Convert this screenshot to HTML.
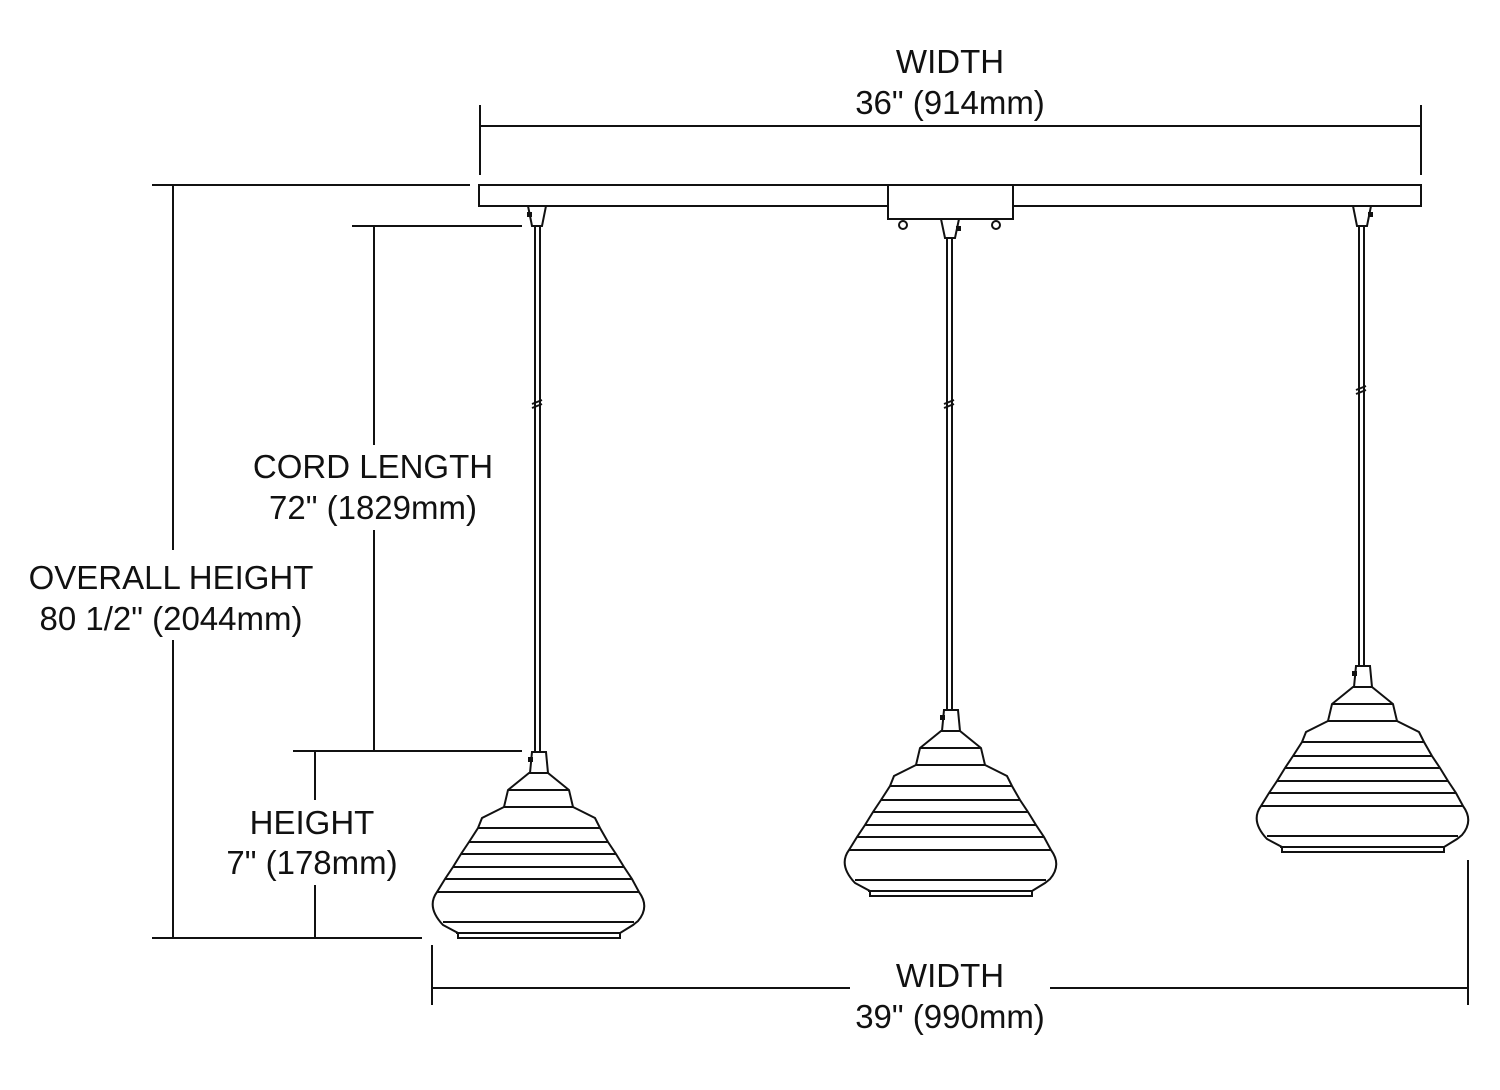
<!DOCTYPE html>
<html><head><style>
body{margin:0;background:#fff}
svg text{font-family:"Liberation Sans",sans-serif;font-size:33px;fill:#111;text-anchor:middle}
</style></head><body>
<svg width="1500" height="1085" viewBox="0 0 1500 1085" xmlns="http://www.w3.org/2000/svg">
<defs>
<g id="shade" fill="#fff" stroke="#111" stroke-width="2">
  <path d="M-6,-21 L8,-21 L10,0 L-8,0 Z"/>
  <path d="M-9,0 L10,0 L31,17 L35,34 L57,45 L62,55 L70,69 L78,81 L86,94 L94,106 L101,119 Q112,134 100,148 L95,152 L82,160 L82,165 L-80,165 L-80,160 L-95,152 Q-112,134 -101,119 L-93,106 L-85,94 L-77,81 L-69,69 L-60,55 L-56,45 L-34,34 L-30,17 Z"/>
  <path d="M-30,17 H31 M-34,34 H35 M-60,55 H62 M-69,69 H70 M-77,81 H78 M-85,94 H86 M-93,106 H94 M-101,119 H101 M-95,149 H96 M-82,160 H82" fill="none"/>
  <rect x="-10" y="-16" width="5" height="5" fill="#111" stroke="none"/>
</g>
</defs>
<g stroke="#111" stroke-width="2" fill="none">
  <line x1="480" y1="105" x2="480" y2="175"/><line x1="1421" y1="105" x2="1421" y2="175"/>
  <line x1="480" y1="126" x2="1421" y2="126"/>
  <line x1="152" y1="185" x2="470" y2="185"/><line x1="152" y1="938" x2="422" y2="938"/>
  <line x1="173" y1="185" x2="173" y2="550"/><line x1="173" y1="640" x2="173" y2="938"/>
  <line x1="352" y1="226" x2="522" y2="226"/><line x1="293" y1="751" x2="522" y2="751"/>
  <line x1="374" y1="226" x2="374" y2="445"/><line x1="374" y1="530" x2="374" y2="751"/>
  <line x1="315" y1="751" x2="315" y2="800"/><line x1="315" y1="885" x2="315" y2="938"/>
  <line x1="432" y1="945" x2="432" y2="1005"/><line x1="1468" y1="860" x2="1468" y2="1005"/>
  <line x1="432" y1="988" x2="850" y2="988"/><line x1="1050" y1="988" x2="1468" y2="988"/>
  <rect x="479" y="185" width="942" height="21" fill="#fff"/>
  <rect x="888" y="185" width="125" height="34" fill="#fff"/>
  <circle cx="903" cy="225" r="4"/><circle cx="996" cy="225" r="4"/>
  <path d="M535,206 V752 M540,206 V752"/>
  <path d="M947,219 V710 M952,219 V710"/>
  <path d="M1359,206 V666 M1364,206 V666"/>
  <path d="M528,206 L546,206 L542,226 L532,226 Z" fill="#fff"/>
  <path d="M941,219 L959,219 L955,238 L945,238 Z" fill="#fff"/>
  <path d="M1353,206 L1371,206 L1367,226 L1357,226 Z" fill="#fff"/>
  <path d="M532,404 l10,-4 M532,408 l10,-4 M944,404 l10,-4 M944,408 l10,-4 M1356,390 l10,-4 M1356,394 l10,-4"/>
</g>
<rect x="527" y="212" width="5" height="5" fill="#111"/>
<rect x="956" y="226" width="5" height="5" fill="#111"/>
<rect x="1368" y="212" width="5" height="5" fill="#111"/>
<use href="#shade" x="538" y="773"/>
<use href="#shade" x="950" y="731"/>
<use href="#shade" x="1362" y="687"/>
<text x="950" y="73">WIDTH</text>
<text x="950" y="114">36" (914mm)</text>
<text x="171" y="589">OVERALL HEIGHT</text>
<text x="171" y="630">80 1/2" (2044mm)</text>
<text x="373" y="478">CORD LENGTH</text>
<text x="373" y="519">72" (1829mm)</text>
<text x="312" y="834">HEIGHT</text>
<text x="312" y="874">7" (178mm)</text>
<text x="950" y="987">WIDTH</text>
<text x="950" y="1028">39" (990mm)</text>
</svg>
</body></html>
